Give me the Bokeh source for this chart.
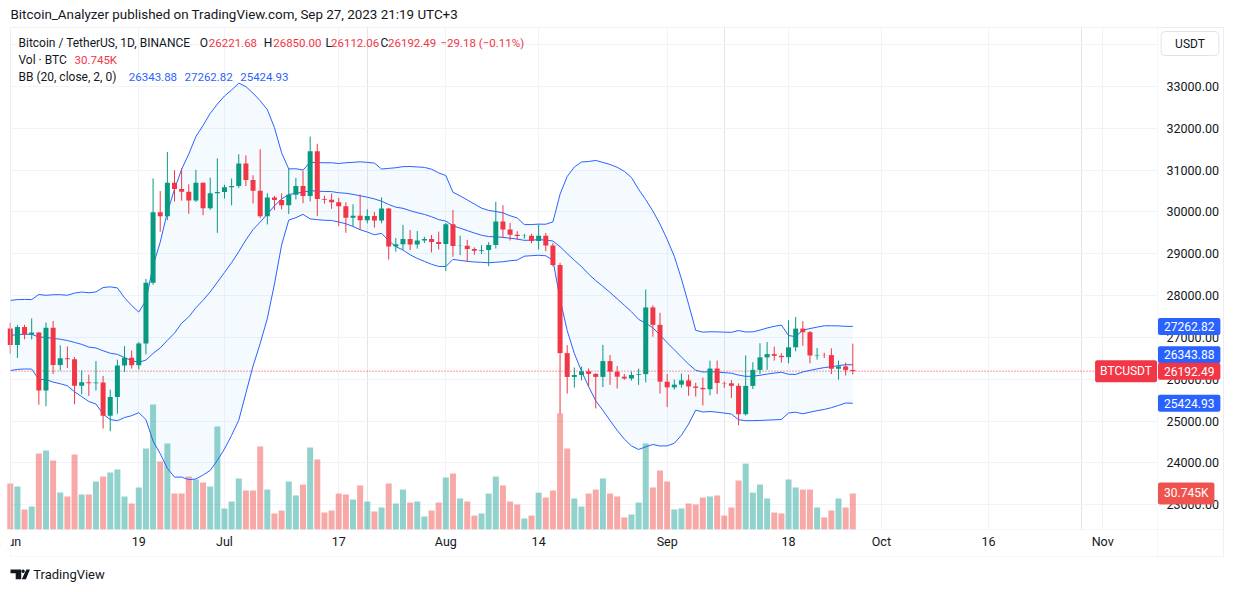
import numpy as np
import pandas as pd
from bokeh.plotting import figure
from bokeh.models import (ColumnDataSource, Range1d, LinearAxis, FixedTicker, Grid,
                          PrintfTickFormatter, Label, Span, BoxAnnotation, PolyAnnotation)
from bokeh.embed import file_html
from bokeh.resources import INLINE

# ---------------- data (BTC/USDT daily, Binance) ----------------
start_date = "2023-06-01"
end_date = "2023-09-27"

opens_jun = [27210.35, 26819.28, 27249.59, 27069.22, 27115.20, 25728.20, 27230.07, 26339.97, 26498.62, 26477.81,
             25841.22, 25925.54, 25901.60, 25918.23, 25124.56, 25576.39, 26327.46, 26510.48, 26335.86, 26851.02,
             28307.99, 29994.64, 29896.38, 30695.63, 30548.69, 30480.52, 30271.12, 30696.60, 30086.75, 30445.97]
highs_jun = [27350.00, 27300.00, 27303.10, 27455.02, 27129.33, 27355.33, 27391.77, 26810.00, 26783.33, 26531.42,
             26209.82, 26106.48, 26433.21, 26078.00, 25749.29, 26468.39, 26792.00, 26685.00, 26888.88, 28400.00,
             30800.00, 30500.00, 31431.94, 31000.00, 31046.01, 30662.26, 31006.89, 30703.28, 30819.38, 31282.00]
lows_jun = [26605.05, 26508.00, 26956.00, 26951.00, 25388.00, 25351.02, 26125.01, 26210.00, 26269.91, 25400.00,
            25634.80, 25602.11, 25728.36, 24820.56, 24756.62, 25175.00, 26174.95, 26254.90, 26236.43, 26595.00,
            28260.00, 29525.61, 29804.00, 30250.01, 30270.00, 29955.00, 30236.65, 29921.82, 30049.20, 29500.00]
closes_jun = [26819.27, 27249.59, 27069.22, 27115.21, 25728.20, 27230.08, 26339.34, 26498.61, 26477.80, 25841.21,
              25925.55, 25901.61, 25918.22, 25124.56, 25576.39, 26327.46, 26510.48, 26336.17, 26851.03, 28307.99,
              29994.63, 29896.37, 30695.63, 30548.70, 30480.00, 30271.13, 30696.61, 30086.74, 30445.97, 30477.25]

opens_jul = [30477.24, 30590.09, 30620.95, 31156.86, 30766.52, 30504.80, 29895.42, 30344.70, 30284.63, 30160.71,
             30411.57, 30622.10, 30380.00, 31454.23, 30312.00, 30289.53, 30232.00, 30138.00, 29859.14, 29909.21,
             29800.00, 29901.72, 29794.27, 30083.75, 29176.50, 29228.91, 29351.95, 29222.78, 29314.14, 29352.90,
             29281.09]
highs_jul = [30650.00, 30800.00, 31380.00, 31350.69, 30878.59, 31500.00, 30449.00, 30386.81, 30445.52, 31045.78,
             30813.63, 30983.25, 31804.20, 31630.00, 30390.90, 30441.46, 30336.96, 30233.65, 30184.18, 30417.46,
             30061.70, 29999.00, 30350.00, 30099.58, 29376.00, 29690.00, 29567.49, 29542.22, 29406.92, 29449.00,
             29530.00]
lows_jul = [30320.55, 30158.56, 30571.90, 30620.00, 30202.70, 29850.45, 29701.02, 30044.47, 30061.12, 29950.00,
            30300.00, 30210.00, 30251.00, 29900.00, 30200.00, 30074.72, 29659.20, 29500.00, 29659.14, 29570.96,
            29726.13, 29625.10, 29730.00, 28861.90, 29047.65, 29096.94, 29083.85, 29123.12, 29256.18, 29033.24,
            29101.80]
closes_jul = [30590.08, 30620.23, 31156.87, 30766.51, 30504.81, 29895.43, 30344.70, 30284.63, 30160.71, 30411.57,
              30622.10, 30380.00, 31454.23, 30312.01, 30289.52, 30231.99, 30138.01, 29859.13, 29909.21, 29800.00,
              29901.72, 29794.28, 30083.75, 29176.50, 29228.91, 29351.96, 29222.78, 29314.14, 29352.90, 29281.09,
              29232.25]

opens_aug = [29232.26, 29705.99, 29186.00, 29193.65, 29114.00, 29072.13, 29088.43, 29211.06, 29770.41, 29581.99,
             29455.76, 29426.02, 29430.18, 29303.85, 29430.92, 29199.99, 28730.51, 26623.41, 26054.01, 26100.01,
             26190.00, 26126.92, 26055.99, 26432.71, 26180.05, 26060.00, 26017.38, 26101.77, 26120.00, 27716.34,
             27299.99]
highs_aug = [29739.25, 30047.50, 29433.33, 29333.08, 29152.23, 29205.03, 29276.78, 30244.00, 30160.00, 29738.00,
             29541.23, 29474.49, 29474.49, 29695.32, 29499.26, 29259.57, 28783.41, 26814.50, 26281.00, 26299.00,
             26258.42, 26139.42, 26819.27, 26577.87, 26314.05, 26125.77, 26182.23, 26253.99, 28142.85, 27768.57,
             27587.51]
lows_aug = [28585.70, 28927.50, 28968.00, 28807.54, 28978.64, 28991.88, 28701.03, 29125.12, 29376.67, 29316.67,
            29330.00, 29358.66, 29251.07, 29102.45, 29059.60, 28701.03, 25166.00, 25655.01, 25801.09, 25971.05,
            25812.00, 25300.00, 25812.82, 25864.50, 25777.15, 25985.92, 25966.11, 25864.00, 25922.00, 27017.24,
            25655.05]
closes_aug = [29705.99, 29186.01, 29193.64, 29113.99, 29072.13, 29088.42, 29211.06, 29770.42, 29581.99, 29455.75,
              29426.03, 29430.17, 29303.84, 29430.93, 29200.00, 28730.51, 26623.41, 26054.00, 26100.01, 26189.99,
              26126.92, 26056.00, 26432.72, 26180.05, 26060.01, 26017.37, 26101.77, 26120.00, 27716.34, 27299.99,
              25940.78]

opens_sep = [25940.77, 25805.04, 25869.50, 25971.21, 25826.03, 25792.11, 25759.95, 26255.01, 25910.50, 25901.60,
             25841.60, 25162.53, 25840.10, 26222.00, 26522.73, 26600.69, 26559.07, 26527.50, 26762.50, 27210.25,
             27125.01, 26568.08, 26580.14, 26575.97, 26250.56, 26304.80, 26221.68]
highs_sep = [26125.01, 25987.50, 26135.00, 26108.02, 25915.49, 26040.00, 26443.14, 26445.50, 25945.09, 25978.00,
             25900.69, 26567.00, 26405.22, 26860.01, 26888.00, 26777.00, 26623.25, 27409.00, 27490.09, 27388.63,
             27152.39, 26743.38, 26632.81, 26738.54, 26446.15, 26397.46, 26850.00]
lows_sep = [25333.75, 25752.11, 25800.00, 25606.00, 25583.22, 25372.51, 25615.38, 25647.26, 25796.64, 25550.00,
            24901.00, 25131.48, 25764.17, 26126.77, 26224.00, 26445.50, 26399.00, 26377.35, 26667.79, 26800.00,
            26377.70, 26468.77, 26509.00, 26122.08, 25990.46, 26088.34, 26112.06]
closes_sep = [25805.05, 25869.51, 25971.21, 25826.02, 25792.10, 25759.95, 26255.00, 25910.50, 25901.61, 25841.61,
              25162.52, 25840.10, 26222.00, 26522.73, 26600.70, 26559.07, 26527.51, 26762.51, 27210.26, 27125.00,
              26568.08, 26580.14, 26575.96, 26250.55, 26304.81, 26221.67, 26192.49]

# volume in thousands of BTC
vol_jun = [39.3, 36.7, 17.1, 19.6, 64.9, 67.5, 58.9, 31.5, 28.2, 64.0, 29.9, 29.9, 41.0, 45.2, 48.7,
           51.3, 28.2, 22.2, 35.9, 69.2, 106.8, 58.1, 73.5, 30.7, 30.7, 45.2, 42.7, 40.2, 36.7, 88.0]
vol_jul = [18.0, 23.9, 43.6, 33.3, 33.3, 70.9, 34.1, 13.7, 16.2, 41.0, 29.1, 38.4, 70.0, 59.8, 14.5, 16.2,
           30.7, 29.9, 25.6, 37.6, 23.9, 15.4, 18.8, 39.3, 22.2, 34.1, 23.0, 23.9, 11.1, 16.2, 23.0]
vol_aug = [44.4, 47.8, 26.5, 23.9, 11.9, 13.7, 30.7, 45.2, 37.6, 23.9, 21.4, 9.4, 11.9, 31.5, 27.3, 33.3,
           99.1, 69.2, 26.5, 19.6, 30.7, 34.1, 43.6, 30.7, 28.2, 10.3, 12.8, 23.0, 73.5, 35.9, 50.4]
vol_sep = [41.0, 17.1, 18.0, 22.2, 21.4, 27.3, 28.2, 29.1, 11.9, 18.8, 41.8, 56.3, 31.5, 38.4, 26.5, 14.5,
           13.7, 42.7, 35.9, 34.1, 34.1, 18.8, 10.3, 16.2, 26.5, 18.8, 30.745]

# closes of the 19 days before the first visible candle (needed for BB(20) warm-up)
warmup_closes = [26788.97, 26917.62, 27162.14, 27033.65, 27405.61, 26821.28, 26880.26, 27102.66, 26747.14,
                 26849.27, 27225.73, 26334.90, 26476.81, 26719.29, 26868.11, 28085.98, 27745.88, 27702.35, 27219.77]

tick_dates = ["2023-06-01", "2023-06-19", "2023-07-01", "2023-07-17", "2023-08-01", "2023-08-14",
              "2023-09-01", "2023-09-18", "2023-10-01", "2023-10-16", "2023-11-01"]
tick_labels = ["Jun", "19", "Jul", "17", "Aug", "14", "Sep", "18", "Oct", "16", "Nov"]
price_ticks = [23000, 24000, 25000, 26000, 27000, 28000, 29000, 30000, 31000, 32000, 33000, 34000]

last_price = 26192.49
bb_basis_last, bb_upper_last, bb_lower_last = 26343.88, 27262.82, 25424.93
last_volume_k = 30.745

# ---------------- derived ----------------
dates = pd.date_range(start_date, end_date, freq="D")
opens = np.array(opens_jun + opens_jul + opens_aug + opens_sep)
highs = np.array(highs_jun + highs_jul + highs_aug + highs_sep)
lows = np.array(lows_jun + lows_jul + lows_aug + lows_sep)
closes = np.array(closes_jun + closes_jul + closes_aug + closes_sep)
vols = np.array(vol_jun + vol_jul + vol_aug + vol_sep) * 1000.0
day = np.asarray((dates - dates[0]).days, dtype=float)

allc = pd.Series(list(warmup_closes) + list(closes))
basis = allc.rolling(20).mean().to_numpy()[len(warmup_closes):]
sd = allc.rolling(20).std(ddof=0).to_numpy()[len(warmup_closes):]
upper = basis + 2 * sd
lower = basis - 2 * sd

UP, DN = "#089981", "#F23645"
up = closes >= opens
src = ColumnDataSource(dict(
    x=day, o=opens, h=highs, l=lows, c=closes,
    top=np.maximum(opens, closes), bot=np.minimum(opens, closes),
    col=np.where(up, UP, DN),
    vol=vols, vcol=np.where(up, "#26A69A", "#EF5350"),
    bu=upper, bm=basis, bl=lower,
))

tick_days = [(pd.Timestamp(d) - dates[0]).days for d in tick_dates]

# ---------------- layout helpers (page pixels -> data) ----------------
W, H = 1233, 592
X0, PPD = 9.78, 7.14          # pixel of first day, pixels per day
PRICE_PER_PX = 23.915         # price units per pixel (33000 sits at y=86)
VOL_PX_PER_K = 1.171          # volume pane: pixels per 1000 BTC, base at y=529
def dx(px):
    return (px - X0) / PPD
def dy(py):
    return 33000 - (py - 86) * PRICE_PER_PX
def py_of(price):
    return 86 + (33000 - price) / PRICE_PER_PX

FONT = "Roboto"
TXT = "#131722"
BORDER = "#E0E3EB"
PANE_L, PANE_R, PANE_T, PANE_B = 10, 1157, 27, 529
BOX_R, BOX_B = 1223, 556

p = figure(width=W, height=H, output_backend="svg", toolbar_location=None, title=None,
           x_range=Range1d(dx(0), dx(W)), y_range=Range1d(dy(H), dy(0)),
           x_axis_location=None, y_axis_location=None,
           min_border=0, min_border_left=0, min_border_right=0, min_border_top=0, min_border_bottom=0)
p.extra_y_ranges = {"vol": Range1d(-(H - PANE_B) / VOL_PX_PER_K * 1000, PANE_B / VOL_PX_PER_K * 1000)}
p.outline_line_color = None
p.background_fill_color = "white"
p.border_fill_color = "white"

xticker = FixedTicker(ticks=tick_days)
yticker = FixedTicker(ticks=price_ticks)
p.add_layout(Grid(dimension=0, ticker=xticker, grid_line_color="#F0F3FA"))
p.add_layout(Grid(dimension=1, ticker=yticker, grid_line_color="#F0F3FA"))

# price line (under the masks so it stops at the price scale)
p.add_layout(Span(location=last_price, dimension="width", line_color=DN, line_width=1,
                  line_dash="1 2", level="underlay"))

# white masks outside the chart pane (hide grid lines there)
for l, r, t, b in [(0, PANE_L, 0, H), (PANE_R, W, 0, H), (0, W, 0, PANE_T), (0, W, PANE_B, H)]:
    p.add_layout(BoxAnnotation(left=dx(l), right=dx(r), top=dy(t), bottom=dy(b), fill_color="white",
                               fill_alpha=1, line_color=None, level="underlay"))

yaxis = LinearAxis(ticker=yticker, formatter=PrintfTickFormatter(format="%.2f"),
                   axis_line_color=None, major_tick_line_color=None, minor_tick_line_color=None,
                   major_tick_in=0, major_tick_out=0, minor_tick_in=0, minor_tick_out=0,
                   major_label_text_font=FONT, major_label_text_font_size="12.5px",
                   major_label_text_color=TXT, major_label_standoff=-(W - 1166))
p.add_layout(yaxis, "right")
xaxis = LinearAxis(ticker=xticker, major_label_overrides=dict(zip(tick_days, tick_labels)),
                   axis_line_color=None, major_tick_line_color=None, minor_tick_line_color=None,
                   major_tick_in=0, major_tick_out=0, minor_tick_in=0, minor_tick_out=0,
                   major_label_text_font=FONT, major_label_text_font_size="12.5px",
                   major_label_text_color=TXT, major_label_standoff=-(H - 533))
p.add_layout(xaxis, "below")

# volume
p.vbar(x="x", top="vol", bottom=0, width=0.84, fill_color="vcol", fill_alpha=0.5, line_color=None,
       source=src, y_range_name="vol")
# Bollinger bands
p.varea(x="x", y1="bl", y2="bu", fill_color="#2196F3", fill_alpha=0.05, source=src)
for col in ("bu", "bm", "bl"):
    p.line(x="x", y=col, line_color="#2962FF", line_width=1, source=src)
# candles
p.segment(x0="x", y0="l", x1="x", y1="h", line_color="col", line_width=1, source=src)
p.vbar(x="x", top="top", bottom="bot", width=0.7, fill_color="col", line_color=None, source=src)

def lab(px, py, text, color=TXT, size="12px", align="left", **kw):
    p.add_layout(Label(x=dx(px), y=dy(py), text=text, text_color=color, text_font=FONT,
                       text_font_size=size, text_align=align, text_baseline="middle", **kw))

# hide the clipped part of the first time label, then container borders
p.add_layout(BoxAnnotation(left=dx(0), right=dx(PANE_L), top=dy(PANE_B), bottom=dy(H), fill_color="white",
                           fill_alpha=1, line_color=None))
for l, r, t, b in [(PANE_L, BOX_R, PANE_T, BOX_B), (PANE_L, BOX_R, PANE_T, PANE_B), (PANE_R, BOX_R, PANE_T, BOX_B)]:
    p.add_layout(BoxAnnotation(left=dx(l), right=dx(r), top=dy(t), bottom=dy(b),
                               fill_alpha=0, line_color=BORDER, line_width=1))

# header
lab(10, 14, "Bitcoin_Analyzer published on TradingView.com, Sep 27, 2023 21:19 UTC+3", size="13.4px")
lab(18, 42, "Bitcoin / TetherUS, 1D, BINANCE")
NUM = "11.5px"
for px, t, c, s in [(199.3, "O", TXT, "12px"), (208.3, "26221.68", DN, NUM), (263.3, "H", TXT, "12px"),
                    (272.7, "26850.00", DN, NUM), (325, "L", TXT, "12px"), (330.5, "26112.06", DN, NUM),
                    (380, "C", TXT, "12px"), (387.5, "26192.49", DN, NUM), (440, "−29.18 (−0.11%)", DN, NUM)]:
    lab(px, 42, t, c, size=s)
lab(18, 59.5, "Vol · BTC")
lab(74, 59.5, f"{last_volume_k:.3f}K", DN, size=NUM)
lab(18, 76, "BB (20, close, 2, 0)")
for px, v in [(128.3, bb_basis_last), (184, bb_upper_last), (239.7, bb_lower_last)]:
    lab(px, 76, f"{v:.2f}", "#2962FF", size=NUM)

# price scale badges (label anchor is the badge edge)
pad = dict(left=6, right=6, top=4, bottom=4)
def badge(py, text, fill, px=1157.5, align="left", padding=pad):
    p.add_layout(Label(x=dx(px), y=dy(py), text=text, text_color="white", text_font=FONT,
                       text_font_size="12px", text_align=align, text_baseline="middle",
                       background_fill_color=fill, padding=padding, border_radius=2))

badge(py_of(bb_upper_last), f"{bb_upper_last:.2f}", "#2962FF")
badge(py_of(last_price) - 16.5, f"{bb_basis_last:.2f}", "#2962FF")
badge(py_of(last_price), f"{last_price:.2f}", DN)
badge(py_of(bb_lower_last), f"{bb_lower_last:.2f}", "#2962FF")
badge(PANE_B - last_volume_k * VOL_PX_PER_K, f"{last_volume_k:.3f}K", "#EF5350")
badge(py_of(last_price), "BTCUSDT", DN, px=1156.5, align="right",
      padding=dict(left=5, right=5, top=4, bottom=4))

# currency box
p.add_layout(Label(x=dx(1189.5), y=dy(43), text="USDT", text_color=TXT, text_font=FONT,
                   text_font_size="12px", text_align="center", text_baseline="middle",
                   background_fill_color="white", border_line_color=BORDER,
                   padding=dict(left=14, right=14, top=5, bottom=5), border_radius=4))

# footer logo + text
p.add_layout(PolyAnnotation(xs=[dx(v) for v in (10, 20.7, 20.7, 15.2, 15.2, 10)],
                            ys=[dy(v) for v in (569, 569, 578.7, 578.7, 572.7, 572.7)],
                            fill_color=TXT, fill_alpha=1, line_color=None))
p.add_layout(PolyAnnotation(xs=[dx(v) for v in (21.3, 25.4, 29.4, 25.9)],
                            ys=[dy(v) for v in (578.7, 578.7, 569, 569)],
                            fill_color=TXT, fill_alpha=1, line_color=None))
ang = np.linspace(0, 2 * np.pi, 13)[:-1]
p.add_layout(PolyAnnotation(xs=[dx(22.6 + 1.7 * np.cos(a)) for a in ang],
                            ys=[dy(570.8 + 1.7 * np.sin(a)) for a in ang],
                            fill_color=TXT, fill_alpha=1, line_color=None))
lab(32.7, 574, "TradingView", size="13px")

open("out.html", "w").write(file_html(p, INLINE))
